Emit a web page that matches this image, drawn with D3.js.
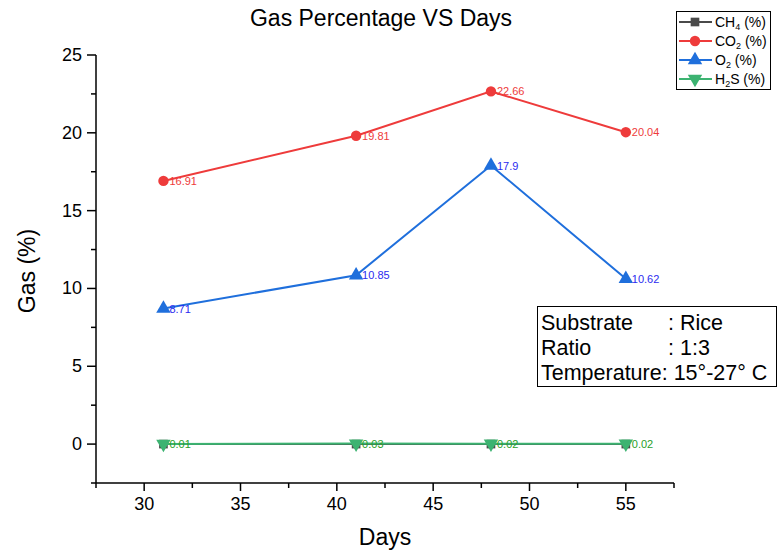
<!DOCTYPE html>
<html>
<head>
<meta charset="utf-8">
<script src="https://cdn.jsdelivr.net/npm/d3@7"></script>
<style>
  body { margin: 0; background: #fff; }
  svg { font-family: "Liberation Sans", Arial, sans-serif; }
</style>
</head>
<body>
<svg width="777" height="552"></svg>
<script>
var days = [31, 41, 48, 55];
var ch4 = [0, 0, 0, 0];
var co2 = [16.91, 19.81, 22.66, 20.04];
var o2 = [8.71, 10.85, 17.9, 10.62];
var h2s = [0.01, 0.03, 0.02, 0.02];
var xTicks = [30, 35, 40, 45, 50, 55];
var yTicks = [0, 5, 10, 15, 20, 25];
var infoLabels = ["Substrate", "Ratio", "Temperature: 15°-27° C"];
var infoValues = [": Rice", ": 1:3", ""];

var svg = d3.select("svg");

var x = d3.scaleLinear().domain([27.5, 57.5]).range([96, 674]);
var y = d3.scaleLinear().domain([-2.5, 25]).range([483, 55]);

var series = [
  { name: "CH", sub: "4", vals: ch4, color: "#4a4a4a", text: "#4a4a4a", sym: d3.symbolSquare, size: 75, rot: 0, showLabel: false },
  { name: "CO", sub: "2", vals: co2, color: "#ee3b3b", text: "#ee3b3b", sym: d3.symbolCircle, size: 85, rot: 0, showLabel: true },
  { name: "O", sub: "2", vals: o2, color: "#1f6fdc", text: "#2b2bf0", sym: d3.symbolTriangle, size: 90, rot: 0, showLabel: true },
  { name: "H", sub: "2", tail: "S", vals: h2s, color: "#3cb371", text: "#2aa02a", sym: d3.symbolTriangle, size: 90, rot: 180, showLabel: true }
];

// axes
var xAxis = svg.append("g").attr("transform", "translate(0,483)");
xAxis.append("line").attr("x1", 96).attr("x2", 674).attr("stroke", "#000").attr("stroke-width", 1.5);
xAxis.selectAll(".minor").data(d3.range(27.5, 57.6, 2.5)).enter().append("line")
  .attr("x1", function(d) { return x(d); }).attr("x2", function(d) { return x(d); })
  .attr("y1", 0).attr("y2", function(d) { return d % 5 === 0 ? 8 : 5; })
  .attr("stroke", "#000").attr("stroke-width", 1.5);
xAxis.selectAll("text").data(xTicks).enter().append("text")
  .attr("x", function(d) { return x(d); }).attr("y", 27)
  .attr("text-anchor", "middle").attr("font-size", 18).text(function(d) { return d; });

var yAxis = svg.append("g").attr("transform", "translate(96,0)");
yAxis.append("line").attr("y1", 55).attr("y2", 483).attr("stroke", "#000").attr("stroke-width", 1.5);
yAxis.selectAll(".minor").data(d3.range(-2.5, 25.1, 2.5)).enter().append("line")
  .attr("y1", function(d) { return y(d); }).attr("y2", function(d) { return y(d); })
  .attr("x1", 0).attr("x2", function(d) { return d % 5 === 0 ? -9 : -5; })
  .attr("stroke", "#000").attr("stroke-width", 1.5);
yAxis.selectAll("text").data(yTicks).enter().append("text")
  .attr("x", -14).attr("y", function(d) { return y(d) + 6; })
  .attr("text-anchor", "end").attr("font-size", 18).text(function(d) { return d; });

svg.append("text").attr("x", 381).attr("y", 26).attr("text-anchor", "middle")
  .attr("font-size", 23).text("Gas Percentage VS Days");
svg.append("text").attr("x", 385).attr("y", 545).attr("text-anchor", "middle")
  .attr("font-size", 23).text("Days");
svg.append("text").attr("transform", "translate(35,271) rotate(-90)").attr("text-anchor", "middle")
  .attr("font-size", 23).text("Gas (%)");

// series
var line = d3.line().x(function(d) { return x(d[0]); }).y(function(d) { return y(d[1]); });

series.forEach(function(s) {
  var pts = days.map(function(d, i) { return [d, s.vals[i]]; });
  var g = svg.append("g");
  g.append("path").datum(pts).attr("d", line).attr("fill", "none")
    .attr("stroke", s.color).attr("stroke-width", 2);
  g.selectAll("path.m").data(pts).enter().append("path").attr("class", "m")
    .attr("d", d3.symbol().type(s.sym).size(s.size))
    .attr("transform", function(d) { return "translate(" + x(d[0]) + "," + y(d[1]) + ") rotate(" + s.rot + ")"; })
    .attr("fill", s.color);
  if (s.showLabel) {
    g.selectAll("text").data(pts).enter().append("text")
      .attr("x", function(d) { return x(d[0]) + 6; })
      .attr("y", function(d) { return y(d[1]) + 4; })
      .attr("font-size", 11).attr("fill", s.text)
      .text(function(d) { return d[1]; });
  }
});

// legend
var legend = svg.append("g");
legend.append("rect").attr("x", 676.5).attr("y", 11.5).attr("width", 94).attr("height", 78)
  .attr("fill", "#fff").attr("stroke", "#000");
series.forEach(function(s, i) {
  var ly = 22 + i * 19;
  legend.append("line").attr("x1", 679).attr("x2", 712).attr("y1", ly).attr("y2", ly)
    .attr("stroke", s.color).attr("stroke-width", 2);
  legend.append("path").attr("d", d3.symbol().type(s.sym).size(s.size))
    .attr("transform", "translate(695," + ly + ") rotate(" + s.rot + ")").attr("fill", s.color);
  var t = legend.append("text").attr("x", 715).attr("y", ly + 5).attr("font-size", 14);
  t.append("tspan").text(s.name);
  t.append("tspan").attr("font-size", 9).attr("dy", 3).text(s.sub);
  t.append("tspan").attr("dy", -3).text((s.tail || "") + " (%)");
});

// info box
var info = svg.append("g");
info.append("rect").attr("x", 537.5).attr("y", 306.5).attr("width", 239).attr("height", 80)
  .attr("fill", "#fff").attr("stroke", "#000");
infoLabels.forEach(function(lab, i) {
  var ly = 330 + i * 25;
  info.append("text").attr("x", 541).attr("y", ly).attr("font-size", 21.5).text(lab);
  if (infoValues[i]) {
    info.append("text").attr("x", 668).attr("y", ly).attr("font-size", 21.5).text(infoValues[i]);
  }
});
</script>
</body>
</html>
